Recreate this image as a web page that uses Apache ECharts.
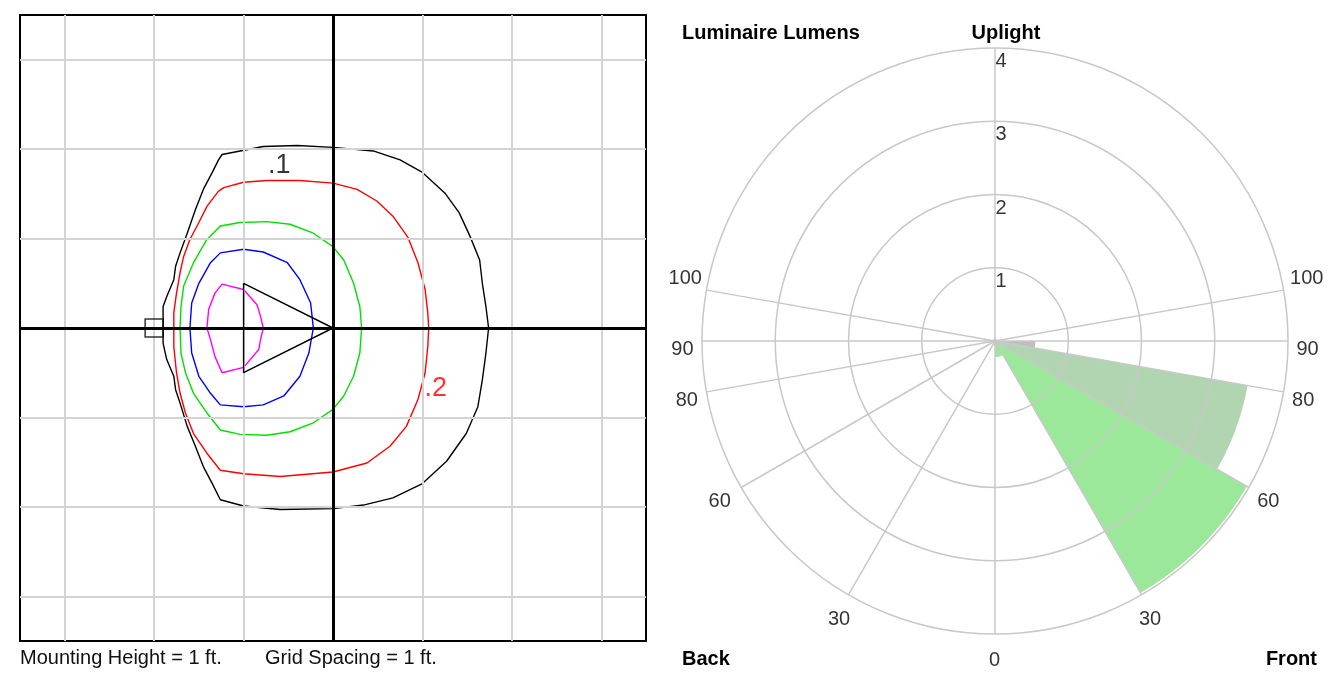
<!DOCTYPE html>
<html>
<head>
<meta charset="utf-8">
<script src="https://cdn.jsdelivr.net/npm/echarts@6/dist/echarts.min.js"></script>
<style>
  html, body { margin: 0; padding: 0; background: #fff; }
  #chart { width: 1335px; height: 673px; }
</style>
</head>
<body>
<div id="chart"></div>
<script>
// ---- Plan view: isofootcandle contours, coordinates in feet ----
const gridTicks = [-3, -2, -1, 1, 2, 3];

const contour01 = [[0,2.02],[0.45,1.98],[0.75,1.88],[1.0,1.74],[1.25,1.51],[1.41,1.29],[1.53,1.03],[1.64,0.76],[1.67,0.5],[1.71,0.24],[1.74,0],[1.71,-0.28],[1.67,-0.58],[1.62,-0.88],[1.49,-1.18],[1.27,-1.49],[1.0,-1.74],[0.67,-1.9],[0.34,-1.98],[0,-2.02],[-0.59,-2.03],[-1.0,-1.99],[-1.26,-1.92],[-1.35,-1.74],[-1.45,-1.55],[-1.54,-1.32],[-1.63,-1.1],[-1.71,-0.84],[-1.76,-0.69],[-1.78,-0.54],[-1.86,-0.35],[-1.9,-0.17],[-1.9,0],[-1.9,0.24],[-1.86,0.35],[-1.78,0.54],[-1.76,0.69],[-1.71,0.84],[-1.63,1.06],[-1.54,1.32],[-1.45,1.55],[-1.35,1.74],[-1.28,1.88],[-1.24,1.94],[-0.78,2.03],[-0.4,2.04],[0,2.02]];

const contour02 = [[0,1.62],[0.27,1.55],[0.49,1.42],[0.67,1.25],[0.84,1.01],[0.95,0.73],[1.03,0.43],[1.06,0.17],[1.07,0],[1.06,-0.21],[1.03,-0.5],[0.95,-0.8],[0.82,-1.1],[0.64,-1.32],[0.38,-1.51],[0,-1.61],[-0.59,-1.66],[-1.0,-1.63],[-1.26,-1.59],[-1.41,-1.4],[-1.56,-1.18],[-1.65,-0.95],[-1.71,-0.73],[-1.75,-0.5],[-1.78,-0.21],[-1.78,0],[-1.78,0.17],[-1.75,0.39],[-1.71,0.62],[-1.67,0.8],[-1.6,0.99],[-1.5,1.18],[-1.41,1.36],[-1.28,1.53],[-1.22,1.57],[-1.0,1.63],[-0.74,1.65],[-0.37,1.65],[0,1.62]];

const contour03 = [[0,0.91],[0.12,0.76],[0.23,0.5],[0.3,0.24],[0.32,0],[0.3,-0.28],[0.23,-0.54],[0.12,-0.76],[0,-0.91],[-0.22,-1.06],[-0.48,-1.16],[-0.74,-1.2],[-1.04,-1.19],[-1.26,-1.14],[-1.41,-0.95],[-1.56,-0.73],[-1.65,-0.5],[-1.7,-0.28],[-1.71,0],[-1.7,0.24],[-1.67,0.47],[-1.56,0.73],[-1.41,0.99],[-1.26,1.14],[-1.04,1.18],[-0.74,1.19],[-0.48,1.16],[-0.22,1.06],[0,0.91]];

const contour04 = [[-1.0,0.88],[-0.78,0.85],[-0.51,0.73],[-0.37,0.54],[-0.25,0.28],[-0.22,0],[-0.27,-0.28],[-0.37,-0.54],[-0.55,-0.76],[-0.78,-0.86],[-1.0,-0.88],[-1.26,-0.86],[-1.37,-0.73],[-1.5,-0.54],[-1.58,-0.28],[-1.6,0],[-1.58,0.28],[-1.5,0.5],[-1.37,0.73],[-1.26,0.84],[-1.0,0.88]];

const contour05 = [[-1.24,0.49],[-1.0,0.43],[-0.85,0.26],[-0.81,0.13],[-0.78,0],[-0.81,-0.13],[-0.83,-0.24],[-1.0,-0.44],[-1.24,-0.5],[-1.32,-0.32],[-1.37,-0.13],[-1.41,0],[-1.39,0.21],[-1.32,0.39],[-1.24,0.49]];

// luminaire symbol (aim arrow) and pole location
const luminaire = [[-1,0.5],[0,0],[-1,-0.5],[-1,0.5]];
const pole = [[-2,0]];

// contour level labels: [x, y, text]
const levelLabels = [[-0.6, 1.82, '.1'], [1.15, -0.68, '.2']];

// ---- Luminaire lumens by zone (polar, degrees from nadir) ----
const zoneStart = [0, 30, 60, 80, 90, 100];
const zoneEnd   = [30, 60, 80, 90, 100, 180];
const frontLumens = [0.22, 3.97, 3.5, 0.55, 0.03, 0.03];
const backLumens  = [0.06, 0.03, 0.02, 0.02, 0.03, 0.03];
const ringValues = [1, 2, 3, 4];
const angleTicks = [0, 30, 60, 80, 90, 100];

const zoneColors = ['#9BE89B', '#9BE89B', '#B1D5B1', '#BEBEBE', '#8C8CF0', '#F29A9A'];
const FONT = '"Liberation Sans", Arial, sans-serif';

// front side angles run counter-clockwise from nadir on the right, back side mirrors them
const toAngle = (a, side) => side === 'front' ? a : 360 - a;

const wedgeData = [];
['front', 'back'].forEach(side => {
  const vals = side === 'front' ? frontLumens : backLumens;
  vals.forEach((v, i) => {
    const a0 = toAngle(zoneStart[i], side), a1 = toAngle(zoneEnd[i], side);
    wedgeData.push({ value: [v, Math.min(a0, a1), Math.max(a0, a1)], itemStyle: { color: zoneColors[i] } });
  });
});

const spokeData = [[4, 0], [4, 180]];
angleTicks.filter(a => a > 0).forEach(a => { spokeData.push([4, toAngle(a, 'front')]); spokeData.push([4, toAngle(a, 'back')]); });

// angle tick label placement around the outer ring
function tickLabel(a, side) {
  const s = side === 'front' ? 1 : -1;
  let pos, align, va = 'top';
  if (a === 0) { pos = [0, 17]; align = 'center'; }
  else if (a === 30) { pos = [9 * s, 15]; align = 'center'; }
  else if (a === 60) { pos = [s > 0 ? 9 : -10, 4]; align = s > 0 ? 'left' : 'right'; }
  else if (a === 100) { pos = [s > 0 ? 7 : -4, -1]; align = s > 0 ? 'left' : 'right'; va = 'bottom'; }
  else { pos = [s > 0 ? 9 : -8, -1]; align = s > 0 ? 'left' : 'right'; }
  return { show: true, position: pos, align: align, verticalAlign: va, formatter: String(a),
           color: '#000', fontSize: 20, fontFamily: FONT };
}
const angleLabelData = [];
angleTicks.forEach(a => {
  angleLabelData.push({ value: [4, toAngle(a, 'front')], label: tickLabel(a, 'front') });
  if (a > 0) angleLabelData.push({ value: [4, toAngle(a, 'back')], label: tickLabel(a, 'back') });
});
const ringLabelData = ringValues.map(r => ({ value: [r, 180], label: {
  show: true, position: [1, 4], align: 'left', verticalAlign: 'top', formatter: String(r),
  color: '#000', fontSize: 20, fontFamily: FONT } }));

const chart = echarts.init(document.getElementById('chart'), null, { renderer: 'canvas' });

const contourSeries = (data, color) => ({
  type: 'line', xAxisIndex: 0, yAxisIndex: 0, data: data, symbol: 'none', smooth: false,
  lineStyle: { color: color, width: 1.4 }, z: 4, silent: true, animation: false
});

const gridLine = { color: '#D3D3D3', width: 2, type: 'solid' };
const axisLine0 = { color: '#000', width: 3, type: 'solid' };

chart.setOption({
  animation: false,
  grid: { left: 20, top: 15, width: 626, height: 626, show: true, borderColor: '#000', borderWidth: 2, backgroundColor: '#fff' },
  xAxis: { type: 'value', min: -3.5, max: 3.5, show: false },
  yAxis: { type: 'value', min: -3.5, max: 3.5, show: false },
  polar: { center: [995, 341], radius: 293 },
  angleAxis: { type: 'value', min: 0, max: 360, startAngle: 270, clockwise: false, show: false },
  radiusAxis: { type: 'value', min: 0, max: 4, show: false },
  series: [
    // plan grid and main axes
    {
      type: 'line', data: [], xAxisIndex: 0, yAxisIndex: 0, z: 1, silent: true,
      markLine: {
        silent: true, symbol: 'none', label: { show: false }, animation: false,
        data: gridTicks.map(v => ({ xAxis: v, lineStyle: gridLine }))
          .concat(gridTicks.map(v => ({ yAxis: v, lineStyle: gridLine })))
          .concat([{ xAxis: 0, lineStyle: axisLine0 }, { yAxis: 0, lineStyle: axisLine0 }])
      }
    },
    contourSeries(contour01, '#000000'),
    contourSeries(contour02, '#FF0000'),
    contourSeries(contour03, '#00E000'),
    contourSeries(contour04, '#0000FF'),
    contourSeries(contour05, '#FF00FF'),
    {
      type: 'line', data: luminaire, symbol: 'none', lineStyle: { color: '#000', width: 1.4 }, z: 5, silent: true
    },
    {
      type: 'scatter', data: pole, symbol: 'rect', symbolSize: 18, z: 6, silent: true,
      itemStyle: { color: 'rgba(0,0,0,0)', borderColor: '#000', borderWidth: 1.5 }
    },
    {
      type: 'scatter', symbolSize: 1, z: 6, silent: true, itemStyle: { color: 'rgba(0,0,0,0)' },
      data: levelLabels.map((d, i) => ({ value: [d[0], d[1]], label: {
        show: true, position: 'inside', formatter: d[2], fontSize: 27, fontFamily: FONT,
        color: i === 0 ? '#000' : '#FF0000' } }))
    },
    // zone wedges
    {
      type: 'custom', coordinateSystem: 'polar', z: 2, silent: true,
      data: wedgeData,
      renderItem: function (params, api) {
        const r = api.value(0), a0 = api.value(1), a1 = api.value(2);
        const pts = [api.coord([0, a0])];
        for (let a = a0; a < a1; a += 0.5) pts.push(api.coord([r, a]));
        pts.push(api.coord([r, a1]));
        return { type: 'polygon', shape: { points: pts }, style: { fill: api.visual('color'), stroke: null } };
      }
    },
    // rings
    {
      type: 'custom', coordinateSystem: 'polar', z: 3, silent: true,
      data: ringValues.map(r => [r, 0]),
      renderItem: function (params, api) {
        const c = api.coord([0, 0]);
        const p = api.coord([api.value(0), 90]);
        const rr = Math.hypot(p[0] - c[0], p[1] - c[1]);
        return { type: 'circle', shape: { cx: c[0], cy: c[1], r: rr },
                 style: { fill: null, stroke: '#C8C8C8', lineWidth: 1.5 } };
      }
    },
    // spokes
    {
      type: 'custom', coordinateSystem: 'polar', z: 3, silent: true,
      data: spokeData,
      renderItem: function (params, api) {
        const p0 = api.coord([0, api.value(1)]);
        const p1 = api.coord([api.value(0), api.value(1)]);
        return { type: 'line', shape: { x1: p0[0], y1: p0[1], x2: p1[0], y2: p1[1] },
                 style: { stroke: '#C8C8C8', lineWidth: 1.5 } };
      }
    },
    // angle and ring labels
    {
      type: 'scatter', coordinateSystem: 'polar', symbolSize: 1, z: 4, silent: true,
      itemStyle: { color: 'rgba(0,0,0,0)' }, data: angleLabelData.concat(ringLabelData)
    }
  ],
  graphic: [
    { type: 'text', x: 20, y: 658, style: { text: 'Mounting Height = 1 ft.', font: '20px ' + FONT, fill: '#111', textAlign: 'left', textVerticalAlign: 'middle', align: 'left', verticalAlign: 'middle' } },
    { type: 'text', x: 265, y: 658, style: { text: 'Grid Spacing = 1 ft.', font: '20px ' + FONT, fill: '#111', textAlign: 'left', textVerticalAlign: 'middle', align: 'left', verticalAlign: 'middle' } },
    { type: 'text', x: 682, y: 33, style: { text: 'Luminaire Lumens', font: 'bold 20px ' + FONT, fill: '#000', textAlign: 'left', textVerticalAlign: 'middle', align: 'left', verticalAlign: 'middle' } },
    { type: 'text', x: 1006, y: 33, style: { text: 'Uplight', font: 'bold 20px ' + FONT, fill: '#000', textAlign: 'center', textVerticalAlign: 'middle', align: 'center', verticalAlign: 'middle' } },
    { type: 'text', x: 682, y: 659, style: { text: 'Back', font: 'bold 20px ' + FONT, fill: '#000', textAlign: 'left', textVerticalAlign: 'middle', align: 'left', verticalAlign: 'middle' } },
    { type: 'text', x: 1317, y: 659, style: { text: 'Front', font: 'bold 20px ' + FONT, fill: '#000', textAlign: 'right', textVerticalAlign: 'middle', align: 'right', verticalAlign: 'middle' } }
  ]
});
</script>
</body>
</html>
